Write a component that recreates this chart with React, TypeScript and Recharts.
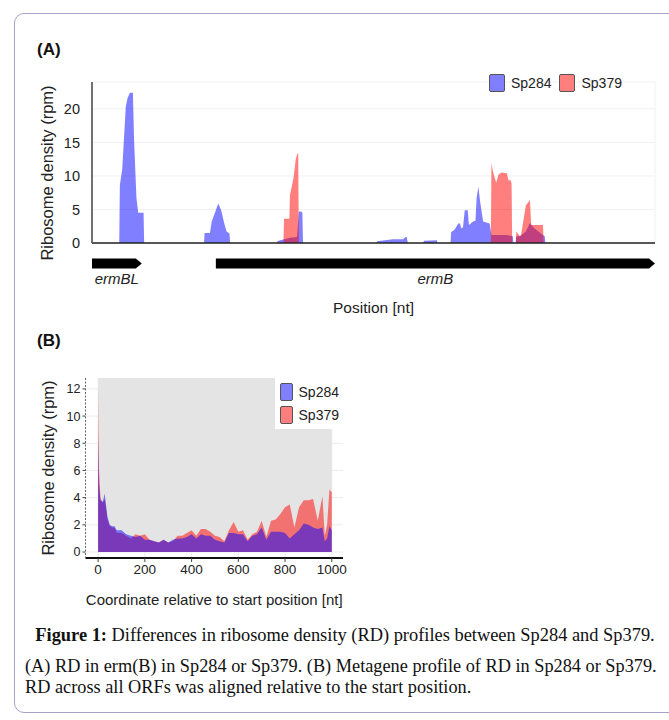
import React from "react";
import {
  ComposedChart,
  Area,
  XAxis,
  YAxis,
  CartesianGrid,
  ReferenceArea,
  Legend,
} from "recharts";

// (A) ribosome density along the ermBL / ermB locus (position in nt, rpm)
const sp284Pos = [
  0, 46, 47, 51, 57, 60, 64, 69, 71, 75, 78, 87, 88,
  189, 190, 199, 202, 207, 213, 218, 223, 227, 232, 233,
  312, 313, 334, 346, 349, 353, 355, 356,
  480, 481, 508, 525, 529, 531, 533,
  559, 560, 582, 583,
  605, 606, 612, 618, 621, 623, 626, 629, 634, 636, 643, 647, 649, 652, 655, 660, 671, 674, 700, 710, 711,
  715, 716, 722, 732, 739, 745, 752, 761, 764, 765, 950,
];
const sp284Rpm = [
  0, 0, 8.6, 11, 20.3, 21.6, 22.4, 22.4, 15.3, 6.7, 4.5, 4.5, 0,
  0, 1.5, 1.5, 3.2, 4.4, 5.9, 4.9, 3.0, 1.7, 1.4, 0,
  0, 0.3, 0.8, 0.9, 4.7, 4.7, 4.5, 0,
  0, 0.25, 0.55, 0.55, 0.9, 0.9, 0,
  0, 0.35, 0.4, 0,
  0, 1.6, 2.0, 2.9, 2.9, 2.2, 2.3, 4.9, 4.9, 2.7, 3.2, 3.3, 6.7, 8.4, 6.1, 3.2, 2.9, 1.2, 1.2, 1.0, 0,
  0, 1.0, 1.0, 1.7, 3.0, 2.3, 1.8, 1.2, 1.0, 0, 0,
];
const sp379Pos = [
  0, 323, 324, 333, 334, 340, 344, 347, 348, 349,
  673, 674, 677, 682, 686, 691, 700, 703, 706, 708, 709,
  715, 716, 722, 724, 732, 739, 741, 761, 762, 950,
];
const sp379Rpm = [
  0, 0, 3.6, 3.6, 7.1, 9.7, 12.6, 13.4, 13.2, 0,
  0, 11.9, 10.5, 9.0, 10.2, 10.5, 10.4, 9.3, 9.4, 8.9, 0,
  0, 1.7, 1.0, 1.2, 5.6, 6.4, 2.7, 2.7, 0, 0,
];

const geneNames = ["ermBL", "ermB"];
const geneStart = [0, 209];
const geneEnd = [84, 950];

const rpmTicksA = [0, 5, 10, 15, 20];
const gridTicksA = [10, 111, 212, 314, 415, 516, 617, 719, 820, 921];

// (B) metagene profile, coordinate relative to start (nt)
const metaPos = [
  0, 4, 10, 20, 28, 40, 50, 60, 70, 80,
  100, 120, 140, 160, 180, 200, 220, 240, 260, 280,
  300, 320, 340, 360, 380, 400, 420, 440, 460, 480,
  500, 520, 540, 560, 580, 600, 620, 640, 660, 680,
  700, 720, 740, 760, 780, 800, 820, 840, 860, 880,
  900, 920, 940, 960, 970, 980, 990, 1000,
];
const sp284Meta = [
  8.4, 5.0, 3.8, 3.7, 4.3, 2.6, 2.0, 1.9, 1.9, 1.6,
  1.6, 1.3, 1.2, 1.1, 1.2, 0.9, 0.9, 0.8, 0.7, 0.9,
  0.7, 0.9, 1.0, 1.0, 1.1, 1.3, 1.0, 1.3, 1.2, 1.2,
  0.9, 0.8, 0.7, 1.4, 1.4, 1.3, 1.3, 0.8, 1.2, 1.3,
  1.8, 0.9, 1.5, 1.5, 1.5, 1.4, 1.0, 1.3, 1.6, 2.1,
  2.0, 1.8, 1.7, 1.8, 0.8, 1.0, 1.9, 1.6,
];
const sp379Meta = [
  12.2, 6.0, 4.0, 3.6, 3.9, 2.4, 1.9, 1.8, 1.8, 1.4,
  1.4, 1.2, 1.0, 1.3, 1.2, 1.3, 0.9, 0.8, 0.7, 0.9,
  0.7, 0.8, 1.2, 1.2, 1.4, 1.6, 1.2, 1.7, 1.7, 1.5,
  1.2, 1.1, 0.8, 1.6, 2.2, 1.5, 1.6, 0.9, 1.3, 1.5,
  2.3, 1.1, 2.3, 2.4, 2.8, 3.3, 3.5, 1.8, 3.3, 3.8,
  3.8, 3.9, 2.3, 4.1, 1.2, 2.0, 4.6, 4.4,
];
const coordTicks = [0, 200, 400, 600, 800, 1000];
const rpmTicksB = [0, 2, 4, 6, 8, 10, 12];

const sans = '"Liberation Sans", Arial, sans-serif';
const serif = '"Liberation Serif", "Times New Roman", serif';
const swatch: Record<string, string> = { Sp284: "#7f7fff", Sp379: "#ff7f7f" };

const toPoints = (pos: number[], val: number[]) =>
  pos.map((x, i) => ({ x, rpm: val[i] }));

const metaData = metaPos.map((x, i) => ({
  x,
  sp284: sp284Meta[i],
  sp379: sp379Meta[i],
}));

function GeneArrow(props: any) {
  const { x, y, width, height } = props;
  const top = Math.min(y, y + height);
  const h = Math.abs(height);
  const head = Math.min(6, width);
  return (
    <path
      d={`M${x},${top}H${x + width - head}L${x + width},${top + h / 2}L${x + width - head},${top + h}H${x}Z`}
      fill="#000"
    />
  );
}

function SwatchLegend(props: any) {
  const { payload, vertical } = props;
  const items = [...(payload ?? [])].sort((a: any, b: any) =>
    String(a.value).localeCompare(String(b.value))
  );
  return (
    <div
      style={{
        display: "flex",
        flexDirection: vertical ? "column" : "row",
        gap: vertical ? 5 : 8,
        background: vertical ? "#fff" : "transparent",
        padding: vertical ? "5px 4px 5px 5px" : 0,
        fontFamily: sans,
        fontSize: 14,
        color: "#222",
      }}
    >
      {items.map((it: any) => (
        <div key={it.value} style={{ display: "flex", alignItems: "center", gap: 6 }}>
          <span
            style={{
              width: 14,
              height: 16,
              background: swatch[it.value],
              border: "1.5px solid #555",
              borderRadius: 2,
            }}
          />
          <span>{it.value}</span>
        </div>
      ))}
    </div>
  );
}

function RotLabel({ x, y, text }: { x: number; y: number; text: string }) {
  return (
    <div
      style={{
        position: "absolute",
        left: x,
        top: y,
        transform: "translate(-50%,-50%) rotate(-90deg)",
        whiteSpace: "nowrap",
        fontSize: 16.5,
        color: "#222",
      }}
    >
      {text}
    </div>
  );
}

export default function App() {
  return (
    <div
      style={{
        position: "absolute",
        left: 0,
        top: 0,
        width: 669,
        height: 720,
        overflow: "hidden",
        background: "#fff",
        fontFamily: sans,
      }}
    >
      <div
        style={{
          position: "absolute",
          left: 14,
          top: 13,
          width: 700,
          height: 698,
          border: "1px solid #a7a2c9",
          borderRadius: 10,
        }}
      />

      <div style={{ position: "absolute", left: 37, top: 40, fontSize: 17, lineHeight: "20px", fontWeight: "bold", color: "#111" }}>
        (A)
      </div>
      <RotLabel x={47} y={173} text="Ribosome density (rpm)" />

      <div style={{ position: "absolute", left: 0, top: 0 }}>
        <ComposedChart width={669} height={320} margin={{ top: 82, right: 14, bottom: 0, left: 52 }}>
          <CartesianGrid stroke="#f1f1f1" />
          <XAxis
            type="number"
            dataKey="x"
            domain={[0, 950]}
            ticks={gridTicksA}
            tick={false}
            tickLine={false}
            height={77}
            axisLine={{ stroke: "#222", strokeWidth: 1.5 }}
            allowDuplicatedCategory={false}
            label={{ value: "Position [nt]", position: "insideBottom", offset: 7, fontSize: 15.5, fill: "#222", fontFamily: sans }}
          />
          <YAxis
            type="number"
            domain={[0, 24]}
            ticks={rpmTicksA}
            width={40}
            tickLine={false}
            tickMargin={6}
            axisLine={{ stroke: "#444", strokeWidth: 1.5 }}
            tick={{ fontSize: 14.5, fill: "#222", fontFamily: sans }}
          />
          <Area
            data={toPoints(sp284Pos, sp284Rpm)}
            dataKey="rpm"
            name="Sp284"
            type="linear"
            fill="#0000ff"
            fillOpacity={0.5}
            stroke="none"
            isAnimationActive={false}
          />
          <Area
            data={toPoints(sp379Pos, sp379Rpm)}
            dataKey="rpm"
            name="Sp379"
            type="linear"
            fill="#ff0000"
            fillOpacity={0.5}
            stroke="none"
            isAnimationActive={false}
          />
          {geneNames.map((g, i) => (
            <ReferenceArea
              key={g}
              x1={geneStart[i]}
              x2={geneEnd[i]}
              y1={-2.3}
              y2={-3.8}
              ifOverflow="visible"
              shape={GeneArrow}
              label={{ value: g, position: "bottom", offset: 5, fontSize: 15, fontStyle: "italic", fill: "#222", fontFamily: sans }}
            />
          ))}
          <Legend
            layout="horizontal"
            verticalAlign="middle"
            content={<SwatchLegend />}
            wrapperStyle={{ top: 74, left: 489, width: "auto" }}
          />
        </ComposedChart>
      </div>

      <div style={{ position: "absolute", left: 37, top: 331, fontSize: 17, lineHeight: "20px", fontWeight: "bold", color: "#111" }}>
        (B)
      </div>
      <RotLabel x={47.5} y={468} text="Ribosome density (rpm)" />

      <div style={{ position: "absolute", left: 0, top: 330 }}>
        <ComposedChart width={360} height={290} data={metaData} margin={{ top: 48, right: 17, bottom: 12, left: 45.5 }}>
          <CartesianGrid stroke="#ececec" horizontalValues={rpmTicksB} verticalValues={coordTicks} />
          <ReferenceArea x1={0} x2={1000} y1={0} y2={12.8} fill="#e4e4e4" fillOpacity={1} stroke="none" ifOverflow="visible" />
          <XAxis
            type="number"
            dataKey="x"
            domain={[-54, 1048]}
            ticks={coordTicks}
            height={50}
            tickSize={4}
            tickMargin={2}
            axisLine={{ stroke: "#111", strokeWidth: 2 }}
            tickLine={{ stroke: "#444" }}
            tick={{ fontSize: 13.5, fill: "#222", fontFamily: sans }}
            label={{ value: "Coordinate relative to start position [nt]", position: "insideBottom", offset: 3, fontSize: 15, fill: "#222", fontFamily: sans }}
          />
          <YAxis
            type="number"
            domain={[-0.44, 12.8]}
            ticks={rpmTicksB}
            width={40}
            tickSize={3}
            tickMargin={2}
            axisLine={{ stroke: "#666", strokeDasharray: "2 1.5" }}
            tickLine={{ stroke: "#444" }}
            tick={{ fontSize: 12.5, fill: "#222", fontFamily: sans }}
          />
          <Area dataKey="sp379" name="Sp379" type="linear" fill="#ff0000" fillOpacity={0.5} stroke="none" isAnimationActive={false} />
          <Area dataKey="sp284" name="Sp284" type="linear" fill="#0000ff" fillOpacity={0.5} stroke="none" isAnimationActive={false} />
          <Legend
            layout="vertical"
            verticalAlign="middle"
            align="center"
            content={<SwatchLegend vertical />}
            wrapperStyle={{ top: 48, left: 275, width: 68 }}
          />
        </ComposedChart>
      </div>

      <div
        style={{
          position: "absolute",
          left: 0,
          top: 624,
          width: 690,
          textAlign: "center",
          fontFamily: serif,
          fontSize: 18.4,
          lineHeight: "22px",
          color: "#111",
          whiteSpace: "nowrap",
        }}
      >
        <b>Figure 1:</b> Differences in ribosome density (RD) profiles between Sp284 and Sp379.
      </div>
      <div
        style={{
          position: "absolute",
          left: 25,
          top: 656,
          fontFamily: serif,
          fontSize: 18.3,
          lineHeight: "21px",
          color: "#111",
          whiteSpace: "nowrap",
        }}
      >
        (A) RD in erm(B) in Sp284 or Sp379. (B) Metagene profile of RD in Sp284 or Sp379.
        <br />
        RD across all ORFs was aligned relative to the start position.
      </div>
    </div>
  );
}
